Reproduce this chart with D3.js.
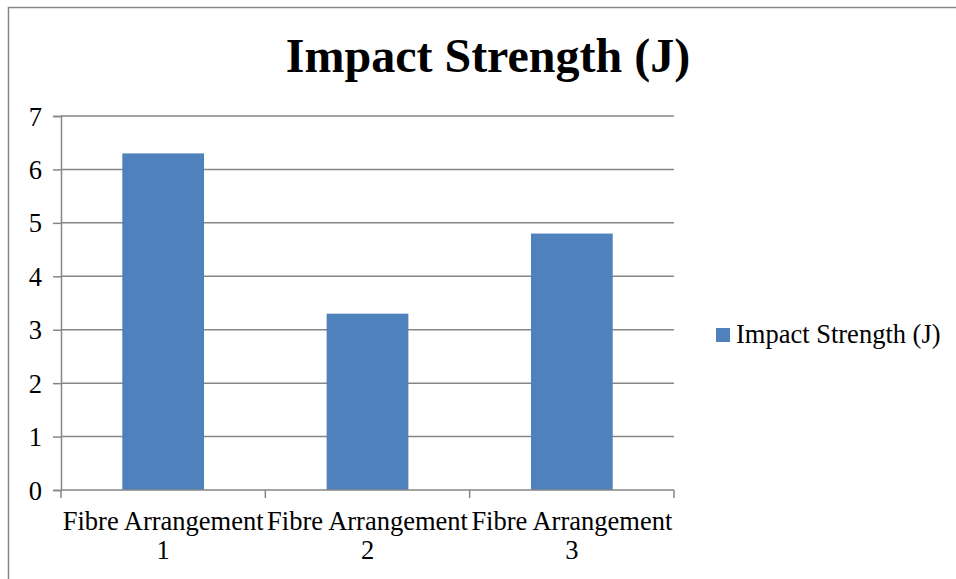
<!DOCTYPE html>
<html>
<head>
<meta charset="utf-8">
<script src="https://cdn.jsdelivr.net/npm/d3@7"></script>
<style>
  html, body { margin: 0; padding: 0; background: #fff; }
  svg { display: block; }
  text { font-family: "Liberation Serif", "Times New Roman", serif; fill: #000; }
</style>
</head>
<body>
<svg id="chart" width="956" height="579"></svg>
<script>
// Chart data
const categories = ["Fibre Arrangement 1", "Fibre Arrangement 2", "Fibre Arrangement 3"];
const categoryLines = [["Fibre Arrangement", "1"], ["Fibre Arrangement", "2"], ["Fibre Arrangement", "3"]];
const impactStrength = [6.3, 3.3, 4.8];
const yTicks = [0, 1, 2, 3, 4, 5, 6, 7];
const seriesName = "Impact Strength (J)";
const chartTitle = "Impact Strength (J)";

const svg = d3.select("#chart");
const barColor = "#4f81bd";
const gridColor = "#868686";
const labelSize = 26.5;

// Outer chart frame
svg.append("rect")
  .attr("x", 8.5).attr("y", 7.5)
  .attr("width", 1000).attr("height", 1000)
  .attr("fill", "none").attr("stroke", gridColor).attr("stroke-width", 1.5);

const plot = { left: 61, right: 674, top: 116, bottom: 490 };

const x = d3.scaleBand()
  .domain(categories)
  .range([plot.left, plot.right])
  .paddingInner(0.6)
  .paddingOuter(0.3);

const xOuter = d3.scaleBand()
  .domain(categories)
  .range([plot.left, plot.right]);

const y = d3.scaleLinear()
  .domain([0, 7])
  .range([plot.bottom, plot.top]);

// Horizontal gridlines
svg.append("g")
  .selectAll("line")
  .data(yTicks.filter(d => d > 0))
  .join("line")
  .attr("x1", plot.left).attr("x2", plot.right)
  .attr("y1", d => y(d)).attr("y2", d => y(d))
  .attr("stroke", gridColor).attr("stroke-width", 1.5);

// Bars
svg.append("g")
  .selectAll("rect")
  .data(impactStrength)
  .join("rect")
  .attr("x", (d, i) => x(categories[i]))
  .attr("y", d => y(d))
  .attr("width", x.bandwidth())
  .attr("height", d => y(0) - y(d))
  .attr("fill", barColor);

// Y axis
const yAxis = svg.append("g")
  .attr("transform", `translate(${plot.left},0)`)
  .call(d3.axisLeft(y).tickValues(yTicks).tickSize(8).tickPadding(11).tickFormat(d3.format("d")));
yAxis.select(".domain").attr("stroke", gridColor).attr("stroke-width", 1.5);
yAxis.selectAll(".tick line").attr("stroke", gridColor).attr("stroke-width", 1.5);
yAxis.selectAll(".tick text")
  .style("font-family", "'Liberation Serif', 'Times New Roman', serif")
  .style("font-size", labelSize + "px").attr("fill", "#000")
  .attr("dy", "0.34em");

// X axis with category boundary ticks
const xAxisG = svg.append("g").attr("transform", `translate(0,${plot.bottom})`);
xAxisG.append("line")
  .attr("x1", plot.left).attr("x2", plot.right)
  .attr("y1", 0).attr("y2", 0)
  .attr("stroke", gridColor).attr("stroke-width", 1.5);
const boundaries = categories.map(c => xOuter(c)).concat([plot.right]);
xAxisG.selectAll("line.bt")
  .data(boundaries)
  .join("line")
  .attr("class", "bt")
  .attr("x1", d => d).attr("x2", d => d)
  .attr("y1", 0).attr("y2", 8)
  .attr("stroke", gridColor).attr("stroke-width", 1.5);

const labels = xAxisG.selectAll("text.cat")
  .data(categories)
  .join("text")
  .attr("class", "cat")
  .attr("text-anchor", "middle")
  .attr("font-size", labelSize)
  .attr("x", d => x(d) + x.bandwidth() / 2);
labels.each(function(d, i) {
  const t = d3.select(this);
  categoryLines[i].forEach((line, j) => {
    t.append("tspan")
      .attr("x", x(d) + x.bandwidth() / 2)
      .attr("y", 40 + j * 29)
      .text(line);
  });
});

// Title
svg.append("text")
  .attr("x", 488).attr("y", 72)
  .attr("text-anchor", "middle")
  .attr("font-size", 48)
  .attr("font-weight", "bold")
  .text(chartTitle);

// Legend
const legend = svg.append("g").attr("transform", "translate(716,328)");
legend.append("rect")
  .attr("width", 14).attr("height", 14)
  .attr("fill", barColor);
legend.append("text")
  .attr("x", 20).attr("y", 15)
  .attr("font-size", labelSize)
  .text(seriesName);
</script>
</body>
</html>
